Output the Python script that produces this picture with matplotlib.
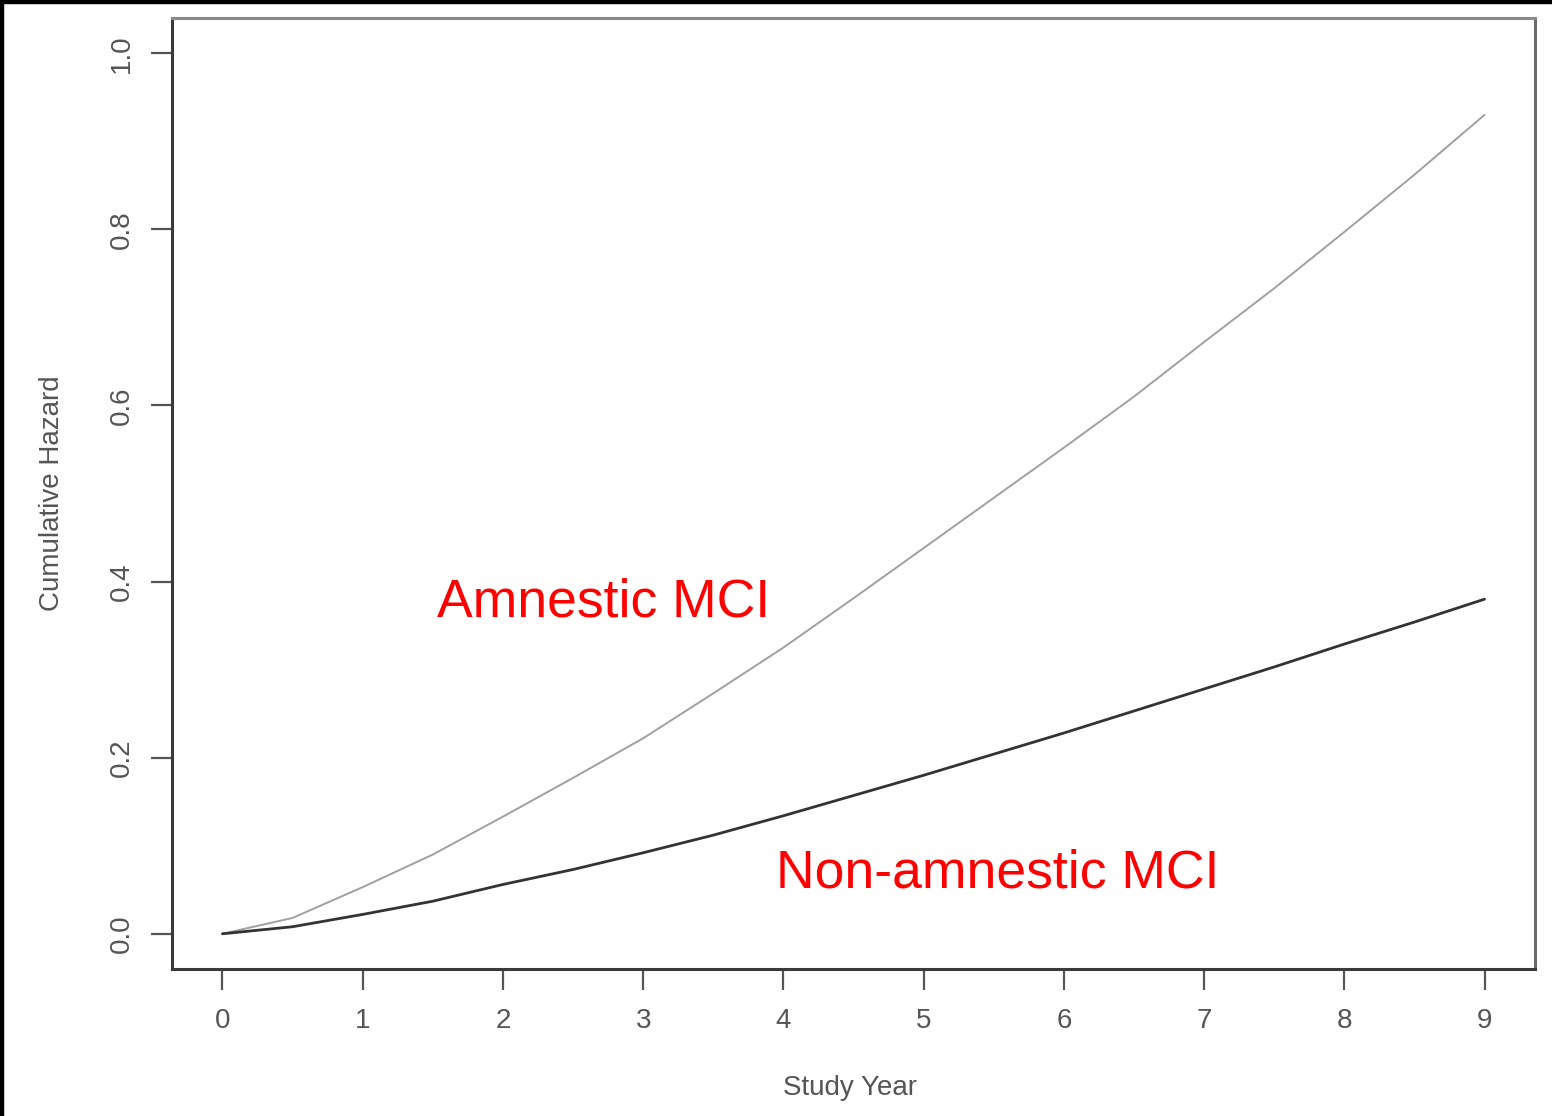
import matplotlib
matplotlib.use("Agg")
import matplotlib.pyplot as plt
from matplotlib.patches import Rectangle

plt.rcParams['font.family'] = ['Liberation Sans', 'DejaVu Sans']

# Data
study_year = [0, 0.5, 1, 1.5, 2, 2.5, 3, 3.5, 4, 4.5, 5, 5.5, 6, 6.5, 7, 7.5, 8, 8.5, 9]
amnestic = [0.0, 0.018, 0.053, 0.090, 0.133, 0.177, 0.222, 0.273, 0.325, 0.381,
            0.438, 0.495, 0.552, 0.610, 0.672, 0.733, 0.797, 0.862, 0.930]
non_amnestic = [0.0, 0.008, 0.022, 0.037, 0.056, 0.073, 0.092, 0.112, 0.134, 0.157,
                0.180, 0.204, 0.228, 0.253, 0.278, 0.303, 0.329, 0.354, 0.380]
x_ticks = [0, 1, 2, 3, 4, 5, 6, 7, 8, 9]
y_ticks = [0.0, 0.2, 0.4, 0.6, 0.8, 1.0]
y_tick_labels = ["0.0", "0.2", "0.4", "0.6", "0.8", "1.0"]
labels = ["Amnestic MCI", "Non-amnestic MCI"]

W, H = 1552, 1116
fig = plt.figure(figsize=(W / 100, H / 100), dpi=100)
ax = fig.add_axes([172 / W, 1 - 969 / H, (1535 - 172) / W, (969 - 18) / H])

ax.plot(study_year, amnestic, color='#a0a0a0', lw=1.4, solid_capstyle='round')
ax.plot(study_year, non_amnestic, color='#333333', lw=2.0, solid_capstyle='round')

ax.set_xlim(-0.36, 9.36)
ax.set_ylim(-0.04, 1.04)
ax.set_xticks(x_ticks)
ax.set_xticklabels([str(t) for t in x_ticks])
ax.set_yticks(y_ticks)
ax.set_yticklabels(y_tick_labels, rotation=90, va='center')

ax.tick_params(axis='both', direction='out', length=15, width=1.6, colors='#555555',
               labelsize=20, labelcolor='#555555')
ax.tick_params(axis='x', pad=13)
ax.tick_params(axis='y', pad=12)

for side, col in [('left', '#3a3a3a'), ('bottom', '#3a3a3a'), ('top', '#8a8a8a'), ('right', '#6a6a6a')]:
    ax.spines[side].set_color(col)
    ax.spines[side].set_linewidth(2.2)

ax.set_xlabel("Study Year", fontsize=20, color='#555555')
ax.set_ylabel("Cumulative Hazard", fontsize=20, color='#555555')
ax.xaxis.set_label_coords((850 - 172) / 1363, -(1088 - 969) / 951)
ax.xaxis.label.set_va('center')
ax.yaxis.set_label_coords((52 - 172) / 1363, (969 - 493) / 951)
ax.yaxis.label.set_va('center')

ax.text(1.53, 0.36, labels[0], color='red', fontsize=38.5, ha='left', va='baseline')
ax.text(3.95, 0.053, labels[1], color='red', fontsize=38.5, ha='left', va='baseline')

# black frame strips on the left and top edges
fig.patches.append(Rectangle((0, 0), 3 / W, 1, transform=fig.transFigure, color='black', zorder=10))
fig.patches.append(Rectangle((0, 1 - 3 / H), 1, 3 / H, transform=fig.transFigure, color='black', zorder=10))

fig.savefig("out.png", dpi=100)
